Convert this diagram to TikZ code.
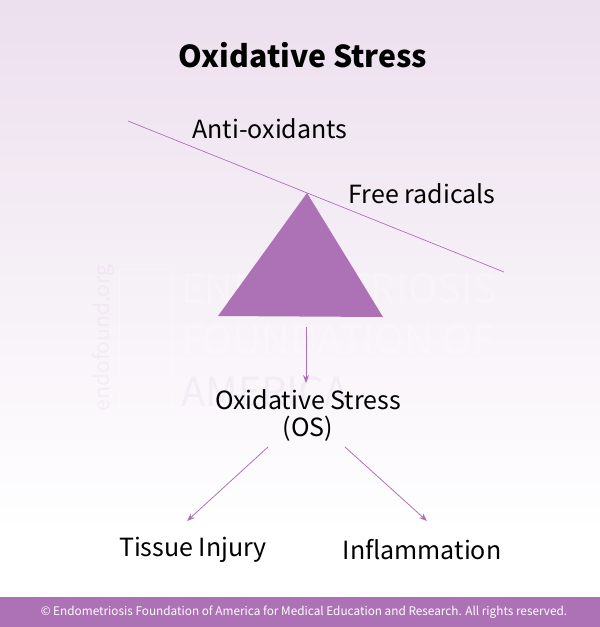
\documentclass[tikz,border=0pt]{standalone}
\usepackage{fontspec}
\setmainfont{Noto Sans CJK SC}
\usetikzlibrary{arrows.meta}
\definecolor{ospurple}{HTML}{AD72B5}
\definecolor{ostop}{HTML}{ECDFEE}
\tikzset{
  label/.style={font=\fontsize{25}{29}\selectfont, text=black, inner sep=0pt, align=center},
  mark text/.style={text=white, opacity=0.24, inner sep=0pt, anchor=west},
  mark low/.style={text=ospurple, opacity=0.07, inner sep=0pt, anchor=west},
  link/.style={draw=ospurple, line width=0.8pt, -{Stealth[length=8pt,width=6pt]}}
}
\begin{document}
\begin{tikzpicture}[x=1pt,y=-1pt]
    \useasboundingbox (0,0) rectangle (600,627);
    \fill[white] (0,0) rectangle (600,627);
    \shade[top color=ostop, bottom color=white] (0,0) rectangle (600,530);
    \fill[ospurple] (0,597) rectangle (600,627);

    % watermark
    \node[mark text, font=\fontsize{40}{40}\selectfont] (markone) at (181,289) {ENDOMETRIOSIS};
    \node[mark text, font=\fontsize{40}{40}\selectfont] (marktwo) at (181,340) {FOUNDATION OF};
    \node[mark low, font=\fontsize{40}{40}\selectfont] (markthree) at (181,392) {AMERICA};
    \node[mark low, font=\fontsize{21}{21}\selectfont, rotate=90, anchor=center] (markurl) at (104,338) {endofound.org};
    \draw[white, opacity=0.3, line width=1pt] (119,269) rectangle (172,406);

    % triangle and beam
    \coordinate (apex) at (307,193);
    \coordinate (left) at (218,316);
    \coordinate (right) at (383,317);
    \fill[ospurple] (apex) -- (left) -- (right) -- cycle;
    \coordinate (beamstart) at (128,121);
    \coordinate (beamend) at (504,272);
    \draw[ospurple, line width=0.7pt] (beamstart) -- (beamend);

    \node[label, font=\fontsize{30.2}{34}\bfseries\selectfont] (title) at (303,55) {Oxidative Stress};
    \node[label] (anti) at (270,129) {Anti-oxidants};
    \node[label] (free) at (422,194) {Free radicals};
    \node[label, font=\fontsize{25}{27}\selectfont] (os) at (308,415.5) {Oxidative Stress\\(OS)};
    \node[label] (tissue) at (193,550) {Tissue Injury};
    \node[label] (inflam) at (422,550) {Inflammation};
    \node[text=white, inner sep=0pt, font=\fontsize{11.8}{14}\selectfont] (copy) at (304,612) {© Endometriosis Foundation of America for Medical Education and Research. All rights reserved.};

    \coordinate (trianglefoot) at (306,327);
    \coordinate (osfoot) at (306,383);
    \coordinate (osleft) at (268,447);
    \coordinate (tissuetop) at (187,521);
    \coordinate (osright) at (345,447);
    \coordinate (inflamtop) at (427,521);
    \draw[link] (trianglefoot) -- (osfoot);
    \draw[link] (osleft) -- (tissuetop);
    \draw[link] (osright) -- (inflamtop);
\end{tikzpicture}
\end{document}
